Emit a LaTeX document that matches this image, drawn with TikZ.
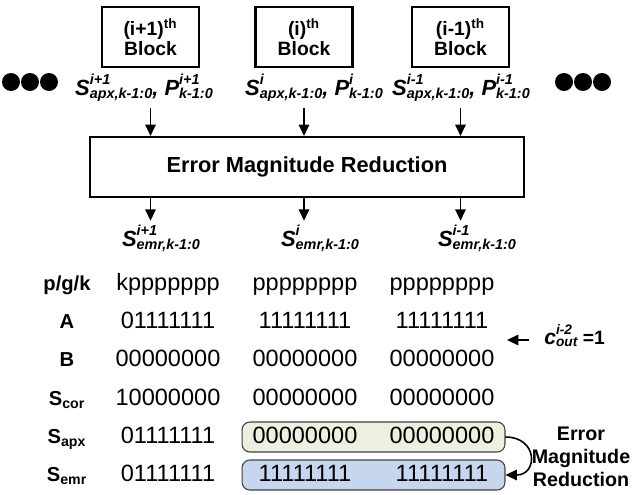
\documentclass[tikz,border=0pt]{standalone}
\usepackage{fontspec}
\setmainfont{Liberation Sans}
\usetikzlibrary{arrows.meta}
\newcommand{\supsub}[3][8.2]{\makebox[0pt][l]{\raisebox{0.5em}{\fontsize{#1}{#1}\selectfont #2}}\raisebox{-0.14em}{\fontsize{#1}{#1}\selectfont #3}}
\begin{document}
\begin{tikzpicture}[x=0.02cm,y=-0.02cm,
	blk/.style={draw,line width=1.2pt,minimum width=1.94cm,minimum height=1.2cm,align=center,font=\fontsize{11}{11.5}\selectfont\bfseries},
	arr/.style={line width=0.9pt,-{Triangle[length=6.5pt,width=6pt]}},
	sig/.style={font=\fontsize{12.5}{13}\selectfont\bfseries\itshape,inner sep=0pt,anchor=base},
	bits/.style={font=\fontsize{13.4}{14}\selectfont,anchor=base,inner sep=0pt},
	rowlab/.style={font=\fontsize{11.5}{12}\selectfont\bfseries,anchor=base,inner sep=0pt},
	hl/.style={draw=black!75,line width=0.6pt,rounded corners=4.5pt,minimum width=5.26cm,minimum height=0.6cm}]
	\useasboundingbox (0,0) rectangle (632,494);
	\node[blk] (blk1) at (150.5,37) {(i+1)\textsuperscript{th}\\Block};
	\node[blk] (blk2) at (304,37) {(i)\textsuperscript{th}\\Block};
	\node[blk] (blk3) at (460.5,37) {(i-1)\textsuperscript{th}\\Block};
	\foreach \x in {11,30,49,564,583,602}
		\fill (\x,82) circle (9);
	\node[sig] (in1) at (144,95) {S\supsub{i+1}{apx,k-1:0}, P\supsub{i+1}{k-1:0}};
	\node[sig] (in2) at (314,95) {S\supsub{i}{apx,k-1:0}, P\supsub{i}{k-1:0}};
	\node[sig] (in3) at (461,95) {S\supsub{i-1}{apx,k-1:0}, P\supsub{i-1}{k-1:0}};
	\node[draw,line width=1.2pt,minimum width=8.68cm,minimum height=1.2cm,font=\fontsize{12.4}{13}\selectfont\bfseries] (emr) at (307,167) {Error Magnitude Reduction};
	\draw[arr,shorten <=4pt] (blk1 |- in1.south) -- (blk1 |- emr.north);
	\draw[arr,shorten <=4pt] (blk2 |- in2.south) -- (blk2 |- emr.north);
	\draw[arr,shorten <=4pt] (blk3 |- in3.south) -- (blk3 |- emr.north);
	\node[sig] (out1) at (161,246) {S\supsub{i+1}{emr,k-1:0}};
	\node[sig] (out2) at (320,246) {S\supsub{i}{emr,k-1:0}};
	\node[sig] (out3) at (477,246) {S\supsub{i-1}{emr,k-1:0}};
	\draw[arr,shorten >=2pt] (blk1 |- emr.south) -- (blk1 |- out1.north);
	\draw[arr,shorten >=2pt] (blk2 |- emr.south) -- (blk2 |- out2.north);
	\draw[arr,shorten >=2pt] (blk3 |- emr.south) -- (blk3 |- out3.north);
	\node[rowlab] (pgk) at (67,290) {p/g/k};
	\node[rowlab] (ra) at (67,328) {A};
	\node[rowlab] (rb) at (67,366) {B};
	\node[rowlab] (rcor) at (67,405) {S\textsubscript{cor}};
	\node[rowlab] (rapx) at (67,443) {S\textsubscript{apx}};
	\node[rowlab] (remr) at (67,481) {S\textsubscript{emr}};
	\node[hl,fill={rgb,255:red,235;green,241;blue,222}] (apxbox) at (373.5,437) {};
	\node[hl,fill={rgb,255:red,197;green,214;blue,238}] (emrbox) at (373.5,475) {};
	\node[bits] (pgk1) at (168,290) {kppppppp};
	\node[bits] (pgk2) at (305,290) {pppppppp};
	\node[bits] (pgk3) at (442,290) {pppppppp};
	\node[bits] (a1) at (168,328) {01111111};
	\node[bits] (a2) at (305,328) {11111111};
	\node[bits] (a3) at (442,328) {11111111};
	\node[bits] (b1) at (168,366) {00000000};
	\node[bits] (b2) at (305,366) {00000000};
	\node[bits] (b3) at (442,366) {00000000};
	\node[bits] (cor1) at (168,405) {10000000};
	\node[bits] (cor2) at (305,405) {00000000};
	\node[bits] (cor3) at (442,405) {00000000};
	\node[bits] (apx1) at (168,443) {01111111};
	\node[bits] (apx2) at (305,443) {00000000};
	\node[bits] (apx3) at (442,443) {00000000};
	\node[bits] (emr1) at (168,481) {01111111};
	\node[bits] (emr2) at (305,481) {11111111};
	\node[bits] (emr3) at (442,481) {11111111};
	\draw[arr] (apxbox.east) to[out=0,in=0,looseness=2.2] (emrbox.east);
	\node[font=\fontsize{11.2}{13}\selectfont\bfseries,align=center] (emrnote) at (581,457) {Error\\Magnitude\\Reduction};
	\node[font=\fontsize{11}{12}\selectfont\bfseries,anchor=base west,inner sep=0pt] (cout) at (544,344) {{\itshape{\fontsize{12}{12}\selectfont c}\supsub[7.8]{i-2}{out}} =1};
	\coordinate (ctail) at (529,340);
	\coordinate (ctip) at (507,340);
	\draw[arr] (ctail) -- (ctip);
\end{tikzpicture}
\end{document}
